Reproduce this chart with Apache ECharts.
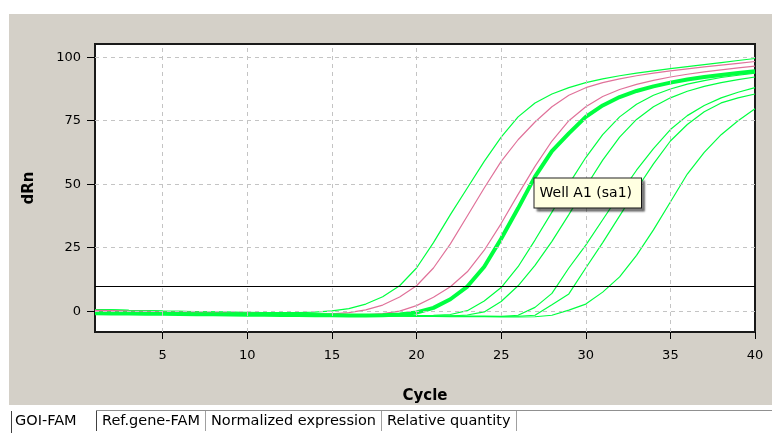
<!DOCTYPE html>
<html><head><meta charset="utf-8">
<script src="https://cdn.jsdelivr.net/npm/echarts@6/dist/echarts.min.js"></script>
<style>html,body{margin:0;padding:0;background:#fff}#c{width:772px;height:445px}</style>
</head><body><div id="c"></div>
<script>
// ---- data ----
const cycles = [1,2,3,4,5,6,7,8,9,10,11,12,13,14,15,16,17,18,19,20,21,22,23,24,25,26,27,28,29,30,31,32,33,34,35,36,37,38,39,40];
const wellG1 = [0.6,0.5,0.3,0.2,0.0,-0.1,-0.2,-0.3,-0.4,-0.5,-0.6,-0.6,-0.6,-0.4,0.1,1.0,2.8,5.7,10.0,17.0,27.0,38.0,48.5,59.0,68.5,76.5,82.0,85.5,88.0,90.0,91.5,92.7,93.7,94.6,95.5,96.3,97.1,97.9,98.7,99.5];
const wellP1 = [-0.2,-0.3,-0.4,-0.5,-0.6,-0.7,-0.8,-0.9,-1.0,-1.1,-1.2,-1.2,-1.3,-1.3,-1.1,-0.6,0.5,2.4,5.6,10.0,17.0,26.5,37.5,48.5,59.0,67.5,74.5,80.5,85.0,88.0,90.0,91.5,92.7,93.7,94.6,95.4,96.2,96.9,97.6,98.3];
const wellP2 = [0.3,0.2,0.0,-0.1,-0.3,-0.4,-0.5,-0.6,-0.8,-0.9,-1.0,-1.1,-1.2,-1.3,-1.4,-1.5,-1.4,-1.0,0.0,2.2,5.5,9.6,15.5,24.0,34.5,46.0,57.0,67.0,75.0,80.5,84.5,87.3,89.3,90.9,92.2,93.3,94.2,95.0,95.8,96.5];
const wellA1 = [-0.8,-0.9,-0.9,-1.0,-1.0,-1.1,-1.2,-1.2,-1.3,-1.4,-1.4,-1.5,-1.5,-1.6,-1.6,-1.7,-1.7,-1.6,-1.3,-0.5,1.3,4.7,9.7,17.5,28.5,40.5,53.0,63.0,70.0,76.5,81.0,84.3,86.7,88.5,90.0,91.2,92.2,93.0,93.8,94.5];
const wellG2 = [0.4,0.3,0.1,0.0,-0.2,-0.3,-0.5,-0.6,-0.7,-0.8,-0.9,-1.0,-1.1,-1.2,-1.3,-1.4,-1.5,-1.6,-1.7,-1.7,-1.6,-1.3,0.2,4.0,9.3,17.5,28.0,39.0,50.0,60.5,69.5,76.5,81.5,85.0,87.5,89.4,90.8,92.0,92.9,93.7];
const wellG3 = [-1.2,-1.2,-1.3,-1.3,-1.3,-1.4,-1.4,-1.5,-1.5,-1.6,-1.6,-1.7,-1.7,-1.8,-1.8,-1.8,-1.9,-1.9,-1.9,-2.0,-2.0,-1.9,-1.5,-0.3,3.8,10.0,18.0,27.5,38.0,49.0,59.5,68.5,75.5,80.5,84.0,86.6,88.5,90.0,91.2,92.2];
const wellG4 = [0.0,-0.1,-0.2,-0.3,-0.4,-0.5,-0.6,-0.7,-0.8,-0.9,-1.0,-1.1,-1.2,-1.3,-1.4,-1.5,-1.6,-1.7,-1.8,-1.9,-2.0,-2.0,-2.1,-2.1,-2.1,-1.6,1.5,7.0,17.0,26.0,36.0,46.0,55.5,64.0,71.5,77.0,81.0,84.0,86.2,88.0];
const wellG5 = [0.6,0.5,0.3,0.2,0.0,-0.1,-0.3,-0.4,-0.5,-0.7,-0.8,-0.9,-1.0,-1.1,-1.2,-1.3,-1.4,-1.5,-1.6,-1.7,-1.8,-1.8,-1.9,-1.9,-2.0,-2.0,-1.6,2.5,6.8,17.0,27.0,37.5,48.0,58.0,67.0,73.5,78.5,82.0,84.0,85.5];
const wellG6 = [-0.8,-0.9,-1.0,-1.0,-1.1,-1.2,-1.2,-1.3,-1.4,-1.5,-1.5,-1.6,-1.7,-1.7,-1.8,-1.9,-1.9,-2.0,-2.0,-2.1,-2.1,-2.2,-2.2,-2.2,-2.3,-2.3,-2.2,-1.6,0.4,2.8,7.5,13.5,22.0,32.0,43.0,54.0,62.5,69.5,75.0,79.7];
const threshold = 10;
const xTickValues = [5,10,15,20,25,30,35,40];
const xGridValues = [5,10,15,20,25,30,35];
const yTickValues = [0,25,50,75,100];
const tipText = 'Well A1 (sa1)';
const tipCoord = [27, 52];
const tabLabels = ['GOI-FAM','Ref.gene-FAM','Normalized expression','Relative quantity'];

// ---- chart ----
const GREEN = '#00ff40', PINK = '#e0729a';
const FONT = 'DejaVu Sans';
const pair = arr => arr.map((v,i)=>[cycles[i], v]);
const thin = [
  {name:'G6', d:wellG6, c:GREEN},
  {name:'G5', d:wellG5, c:GREEN},
  {name:'G4', d:wellG4, c:GREEN},
  {name:'G3', d:wellG3, c:GREEN},
  {name:'G2', d:wellG2, c:GREEN},
  {name:'G1', d:wellG1, c:GREEN},
  {name:'P2', d:wellP2, c:PINK},
  {name:'P1', d:wellP1, c:PINK}
];
const series = [];
series.push({
  type:'line', name:'grid', data:[], silent:true, z:1,
  markLine:{silent:true, symbol:['none','none'], animation:false, label:{show:false},
    lineStyle:{color:'#c4c4c4', type:[4,4], width:1},
    data: xGridValues.map(v=>({xAxis:v})).concat(yTickValues.map(v=>({yAxis:v})))}
});
thin.forEach(s=>series.push({type:'line', name:s.name, data:pair(s.d), symbol:'none', z:3,
  lineStyle:{color:s.c, width:1.2}, silent:true, animation:false}));
series.push({type:'line', name:'A1', data:pair(wellA1), symbol:'none', z:4,
  lineStyle:{color:GREEN, width:4}, animation:false, silent:true,
  markPoint:{symbol:'rect', symbolSize:1, itemStyle:{color:'rgba(0,0,0,0)'}, animation:false, z:20,
    label:{show:true, position:[0,0], formatter:tipText, color:'#000', fontFamily:FONT, fontSize:14,
      backgroundColor:'#ffffe1', borderColor:'#222', borderWidth:1, padding:[8,9,7,5],
      shadowColor:'rgba(0,0,0,0.45)', shadowOffsetX:3, shadowOffsetY:3, shadowBlur:2},
    data:[{coord:tipCoord}]}
});
series.push({type:'line', name:'thr', data:[], silent:true, z:6,
  markLine:{silent:true, symbol:['none','none'], animation:false, label:{show:false},
    lineStyle:{color:'#000', type:'solid', width:1}, data:[{yAxis:threshold}]}});

// tab strip (UI chrome), laid out from measured text widths
const TAB_FONT = '14.5px "DejaVu Sans"';
const mctx = document.createElement('canvas').getContext('2d');
mctx.font = TAB_FONT;
const graphic = [
  {type:'rect', shape:{x:9,y:14,width:763,height:391}, style:{fill:'#d4d0c8'}, z:-10, silent:true},
  {type:'line', shape:{x1:96,y1:410.5,x2:772,y2:410.5}, style:{stroke:'#909090', lineWidth:1}, silent:true},
  {type:'line', shape:{x1:11.5,y1:411,x2:11.5,y2:433}, style:{stroke:'#404040', lineWidth:1}, silent:true}
];
let tx = 15;
tabLabels.forEach((t,i)=>{
  graphic.push({type:'text', x:tx, y:421, style:{text:t, font:TAB_FONT, fill:'#000', textVerticalAlign:'middle'}, silent:true});
  const w = mctx.measureText(t).width;
  let sep = i === 0 ? 96 : Math.round(tx + w + 5);
  graphic.push({type:'line', shape:{x1:sep+0.5,y1:411,x2:sep+0.5,y2:431}, style:{stroke:i===0?'#404040':'#a0a0a0', lineWidth:1}, silent:true});
  tx = sep + 6;
});

const chart = echarts.init(document.getElementById('c'), null, {renderer:'canvas'});
chart.setOption({
  animation:false,
  backgroundColor:'#ffffff',
  grid:{left:95, top:44, width:660, height:288, show:true, backgroundColor:'#ffffff', borderColor:'#1a1a1a', borderWidth:2, containLabel:false},
  xAxis:{type:'value', min:1, max:40, name:'Cycle', nameLocation:'middle', nameGap:57,
    nameTextStyle:{fontFamily:FONT, fontWeight:'bold', fontSize:15, color:'#000'},
    axisLine:{show:true, onZero:false, lineStyle:{color:'#1a1a1a', width:2}},
    axisTick:{show:true, length:7, lineStyle:{color:'#000', width:1}, customValues:xTickValues},
    axisLabel:{fontFamily:FONT, fontSize:13, color:'#000', margin:17, customValues:xTickValues},
    splitLine:{show:false}},
  yAxis:{type:'value', min:-8.2, max:105.2, name:'dRn', nameLocation:'middle', nameGap:58, nameRotate:90,
    nameTextStyle:{fontFamily:FONT, fontWeight:'bold', fontSize:15, color:'#000'},
    axisLine:{show:true, onZero:false, lineStyle:{color:'#1a1a1a', width:2}},
    axisTick:{show:true, length:8, lineStyle:{color:'#000', width:1}, customValues:yTickValues},
    axisLabel:{fontFamily:FONT, fontSize:13, color:'#000', margin:14, customValues:yTickValues},
    splitLine:{show:false}},
  graphic: graphic,
  series: series
});
</script></body></html>
